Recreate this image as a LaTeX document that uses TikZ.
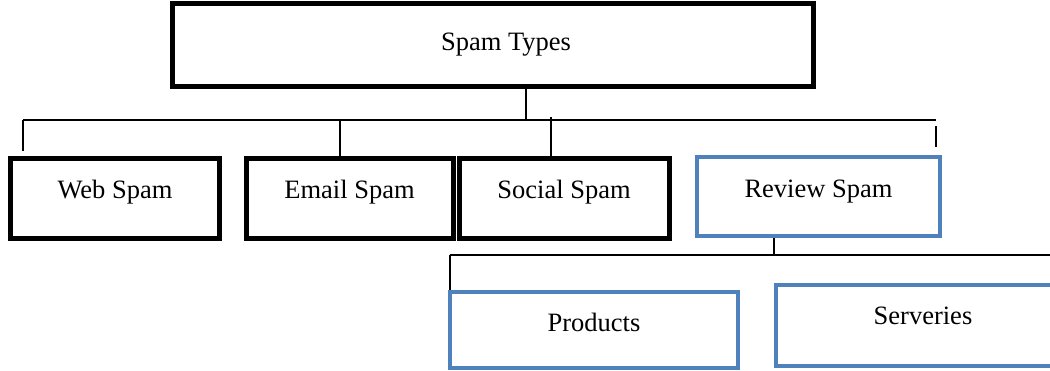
\documentclass[tikz,border=0pt]{standalone}
\usepackage{fontspec}
\setmainfont{Liberation Serif}
\definecolor{officeblue}{HTML}{4F81BD}
\tikzset{
  box/.style={draw, line width=5pt, inner sep=0pt, font=\fontsize{26.5}{30}\selectfont},
  blackbox/.style={box, draw=black},
  bluebox/.style={box, draw=officeblue, line width=4.5pt},
  link/.style={draw=black, line width=2pt},
}
\begin{document}
\begin{tikzpicture}[x=1pt, y=-1pt]
  \useasboundingbox (0,0) rectangle (1050,370);
  \begin{scope}
    \clip (0,0) rectangle (1050,370);
    % root
    \node[blackbox, minimum width=641pt, text height=47pt, text depth=36pt] (root) at (492.5,45) {\hspace*{27pt}Spam Types};
    % first level
    \node[blackbox, minimum width=209pt, text height=40pt, text depth=40pt] (web) at (115,198) {Web Spam};
    \node[blackbox, minimum width=207pt, text height=40pt, text depth=40pt] (email) at (349.5,198) {Email Spam};
    \node[blackbox, minimum width=210pt, text height=40pt, text depth=40pt] (social) at (564,198) {Social Spam};
    \node[bluebox, minimum width=243pt, text height=40pt, text depth=39pt] (review) at (818.5,196.5) {Review Spam};
    % second level
    \node[bluebox, minimum width=288pt, text height=39pt, text depth=37pt] (products) at (594,330) {Products};
    \node[bluebox, minimum width=294pt, text height=39pt, text depth=42pt] (serveries) at (923,325.5) {Serveries};
    % bus lines
    \coordinate (bus) at (526,120);
    \coordinate (busL) at (23,120);
    \coordinate (busR) at (936,120);
    \coordinate (webtip) at (23,151);
    \coordinate (emailtop) at (340,120);
    \coordinate (socialtop) at (551,117);
    \coordinate (revtip) at (936,126);
    \coordinate (sub) at (774,255);
    \coordinate (subL) at (450,255);
    \coordinate (subR) at (1050,255);
    \draw[link] (root.south -| bus) -- (bus);
    \draw[link] (busL) -- (busR);
    \draw[link] (busL) -- (webtip);
    \draw[link] (emailtop) -- (email.north -| emailtop);
    \draw[link] (socialtop) -- (social.north -| socialtop);
    \draw[link] (revtip) -- ([yshift=8pt]review.north -| revtip);
    \draw[link] (review.south -| sub) -- (sub);
    \draw[link] (subL) -- (subR);
    \draw[link] (subL) -- (products.north -| subL);
  \end{scope}
\end{tikzpicture}
\end{document}
